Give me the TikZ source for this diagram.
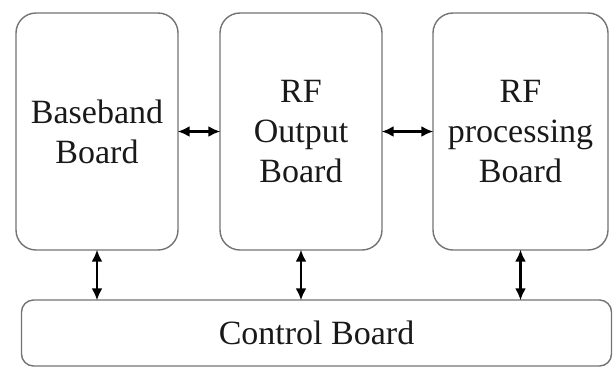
\documentclass[tikz,border=0pt]{standalone}
\usepackage{fontspec}
\setmainfont{Liberation Serif}
\usetikzlibrary{arrows.meta}
\begin{document}
\begin{tikzpicture}[x=1pt,y=1pt,
  board/.style={draw=black!55, line width=1.4pt, rounded corners=20pt, align=center,
    font=\fontsize{34}{40}\selectfont, text=black!90, inner sep=0pt},
  tip/.tip={Latex[length=12pt,width=11pt]},
  link/.style={tip-tip, line width=2.2pt, shorten >=-1pt, shorten <=-1pt}]
\useasboundingbox (0,0) rectangle (613,-368);
\node[board, minimum width=162pt, minimum height=237pt] (bb) at (97,-131.5) {Baseband\\Board};
\node[board, minimum width=162pt, minimum height=237pt] (ro) at (301,-131.5) {RF\\Output\\Board};
\node[board, minimum width=175pt, minimum height=237pt] (rp) at (520.5,-131.5) {RF\\processing\\Board};
\node[board, rounded corners=12pt, minimum width=590pt, minimum height=66pt] (cb) at (316.5,-333) {Control Board};
\draw[link] (bb.east) -- (ro.west);
\draw[link] (ro.east) -- (rp.west);
\draw[link] (bb.south) -- (bb.south |- cb.north);
\draw[link] (ro.south) -- (ro.south |- cb.north);
\draw[link] (rp.south) -- (rp.south |- cb.north);
\end{tikzpicture}
\end{document}
